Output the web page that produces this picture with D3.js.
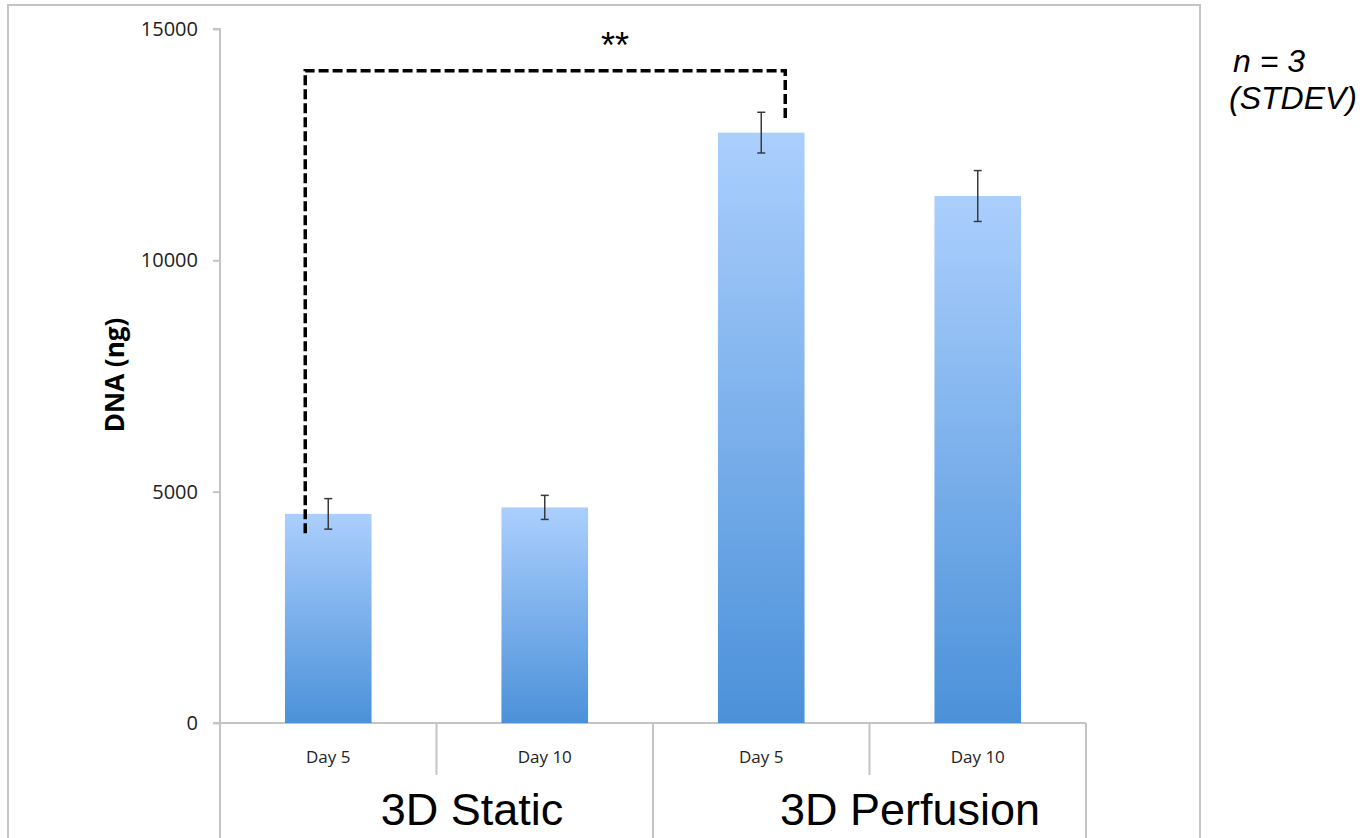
<!DOCTYPE html>
<html><head><meta charset="utf-8">
<script src="https://cdn.jsdelivr.net/npm/d3@7"></script>
<style>body{margin:0;background:#fff}svg{display:block}</style>
</head><body>
<svg id="c" width="1368" height="838"></svg>
<script>
const days = ["Day 5","Day 10","Day 5","Day 10"];
const groups = ["3D Static","3D Perfusion"];
const values = [4520, 4660, 12760, 11390];
const errors = [330, 260, 440, 550];
const yTicks = [0, 5000, 10000, 15000];

const svg = d3.select("#c");
const L = 220, R = 1086, T = 29, B = 723;
const x = d3.scaleBand().domain(d3.range(days.length)).range([L, R]).paddingInner(0).paddingOuter(0);
const y = d3.scaleLinear().domain([0, 15000]).range([B, T]);
const grey = "#c4c4c4";
const font = "'Open Sans', 'DejaVu Sans', sans-serif";
const arial = "'Liberation Sans', Arial, sans-serif";

// outer border
svg.append("rect").attr("x", 8).attr("y", 5).attr("width", 1192).attr("height", 850)
  .attr("fill", "none").attr("stroke", grey).attr("stroke-width", 2);

const defs = svg.append("defs");
const g = defs.append("linearGradient").attr("id", "bg").attr("x1", 0).attr("x2", 0).attr("y1", 0).attr("y2", 1);
g.append("stop").attr("offset", 0).attr("stop-color", "#abcffd");
g.append("stop").attr("offset", 1).attr("stop-color", "#4b91d9");

// y axis
const ya = svg.append("g").attr("transform", `translate(${L},0)`)
  .call(d3.axisLeft(y).tickValues(yTicks).tickSize(7).tickPadding(15).tickFormat(d3.format("d")));
ya.select(".domain").attr("stroke", grey).attr("stroke-width", 2).attr("d", `M-7,${T}H0V${B}`);
ya.selectAll(".tick line").attr("stroke", grey).attr("stroke-width", 2);
ya.selectAll(".tick text").attr("font-family", font).attr("font-size", 20).attr("fill", "#222");

// x axis baseline
svg.append("line").attr("x1", L - 7).attr("x2", R).attr("y1", B).attr("y2", B)
  .attr("stroke", grey).attr("stroke-width", 2);

// inner category dividers
[1, 3].forEach(i => svg.append("line").attr("x1", x(i)).attr("x2", x(i)).attr("y1", B).attr("y2", 775)
  .attr("stroke", grey).attr("stroke-width", 2));
[0, 2, 4].forEach(i => { const xx = i < 4 ? x(i) : R;
  svg.append("line").attr("x1", xx).attr("x2", xx).attr("y1", B).attr("y2", 838)
  .attr("stroke", grey).attr("stroke-width", 2); });

// day labels
svg.selectAll(".day").data(days).enter().append("text")
  .attr("x", (d, i) => x(i) + x.bandwidth() / 2).attr("y", 763)
  .attr("text-anchor", "middle").attr("font-family", font).attr("font-size", 17).attr("fill", "#222")
  .text(d => d);

// group labels (offset as in original)
const gx = [472, 910];
svg.selectAll(".grp").data(groups).enter().append("text")
  .attr("x", (d, i) => gx[i]).attr("y", 825)
  .attr("text-anchor", "middle").attr("font-family", arial)
  .attr("font-size", 45).attr("fill", "#000").text(d => d);

// bars
const bw = x.bandwidth() * 0.4;
svg.selectAll(".bar").data(values).enter().append("rect")
  .attr("x", (d, i) => x(i) + (x.bandwidth() - bw) / 2)
  .attr("y", d => y(d)).attr("width", bw).attr("height", d => B - y(d))
  .attr("fill", "url(#bg)");

// error bars
const eb = svg.append("g").attr("stroke", "#3a3a3a").attr("stroke-width", 1.5);
values.forEach((v, i) => {
  const cx = x(i) + x.bandwidth() / 2;
  eb.append("line").attr("x1", cx).attr("x2", cx).attr("y1", y(v + errors[i])).attr("y2", y(v - errors[i]));
  [v + errors[i], v - errors[i]].forEach(e =>
    eb.append("line").attr("x1", cx - 4).attr("x2", cx + 4).attr("y1", y(e)).attr("y2", y(e)));
});

// significance bracket
const bx1 = x(0) + x.bandwidth() / 2 - 23, bx2 = x(2) + x.bandwidth() / 2 + 24;
const by = y(14100);
svg.append("path")
  .attr("d", `M${bx1},${y(4100)}V${by}H${bx2}V${y(13020)}`)
  .attr("fill", "none").attr("stroke", "#000").attr("stroke-width", 3.5).attr("stroke-dasharray", "10,4");
svg.append("text").attr("x", 615).attr("y", 58).attr("text-anchor", "middle")
  .attr("font-family", arial).attr("font-size", 36).text("**");

// y title
svg.append("text").attr("transform", `translate(124,375) rotate(-90)`).attr("text-anchor", "middle")
  .attr("font-family", font).attr("font-weight", "bold").attr("font-size", 26).text("DNA (ng)");

// note
const nt = svg.append("text").attr("font-family", arial)
  .attr("font-style", "italic").attr("font-size", 32).attr("fill", "#000");
nt.append("tspan").attr("x", 1233).attr("y", 72).text("n = 3");
nt.append("tspan").attr("x", 1229).attr("y", 109).text("(STDEV)");
</script>
</body></html>
